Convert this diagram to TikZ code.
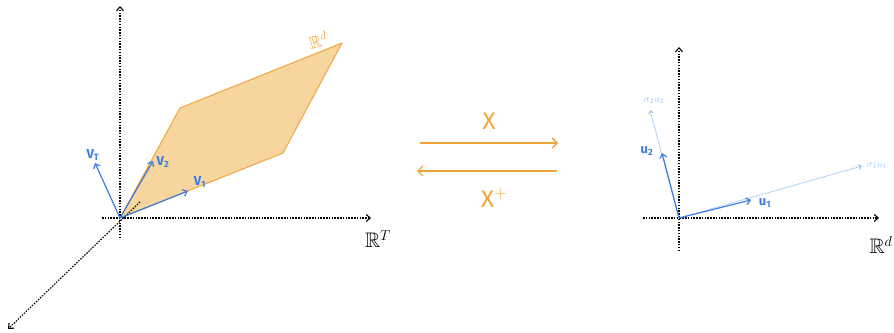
\documentclass[tikz,border=0pt]{standalone}
\usepackage{amssymb}
\usepackage{fontspec}
\setmainfont{Fira Sans}
\usetikzlibrary{arrows.meta}
\definecolor{vblue}{HTML}{3A7BE6}
\definecolor{lblue}{HTML}{9EC4EE}
\definecolor{orng}{HTML}{F0A53A}
\definecolor{ofill}{HTML}{F6D69E}
\begin{document}
\begin{tikzpicture}[x=1pt,y=-1pt,
  axis/.style={line width=1.1pt,dash pattern=on 1.5pt off 1.3pt,-{Straight Barb[length=4pt,width=7pt]}},
  vec/.style={vblue,line width=1.2pt,-{Straight Barb[length=4pt,width=7pt]}},
  faint/.style={lblue,line width=0.9pt,dash pattern=on 1pt off 0.6pt,-{Straight Barb[length=3pt,width=5pt]}},
  vlab/.style={vblue,font=\bfseries\fontsize{13}{14}\selectfont,inner sep=1pt},
  flab/.style={lblue,font=\fontsize{10}{11}\selectfont,inner sep=1pt},
  olab/.style={orng,font=\fontsize{24}{26}\selectfont,inner sep=1pt},
  blab/.style={black,font=\fontsize{21}{22}\selectfont,inner sep=1pt},
  oarrow/.style={orng,line width=1.3pt,-{Straight Barb[length=5pt,width=10pt]}}]
\useasboundingbox (0,0) rectangle (894,332);
% left coordinates
\coordinate (O) at (120,218);
\coordinate (P2) at (180,108);
\coordinate (P3) at (342,43);
\coordinate (P4) at (283,153);
\coordinate (yt) at (120,6);
\coordinate (yb) at (120,238);
\coordinate (xl) at (102,218);
\coordinate (xr) at (371,218);
\coordinate (zt) at (140,202);
\coordinate (zb) at (8,329);
\coordinate (v1) at (188,191);
\coordinate (v2) at (153,161);
\coordinate (vT) at (95,163);
% plane
\filldraw[fill=ofill,draw=orng,line width=1pt,line join=round] (O) -- (P2) -- (P3) -- (P4) -- cycle;
% axes
\draw[axis] (yb) -- (yt);
\draw[axis] (xl) -- (xr);
\draw[axis] (zt) -- (zb);
% vectors
\draw[vec] (O) -- (v1);
\draw[vec] (O) -- (v2);
\draw[vec] (O) -- (vT);
\node[vlab] (lv1) at (200,182) {V$_{\mathbf 1}$};
\node[vlab] (lv2) at (163,162) {V$_{\mathbf 2}$};
\node[vlab] (lvT) at (93,155) {V$_{\mathbf T}$};
\node[blab] (RT) at (378,239) {$\mathbb{R}^T$};
\node[orng,font=\fontsize{17}{18}\selectfont,rotate=15,inner sep=1pt] (Rd1) at (318,40) {$\mathbb{R}^d$};
% middle arrows
\coordinate (a1) at (420,143);
\coordinate (a2) at (558,143);
\coordinate (b1) at (557,171);
\coordinate (b2) at (417,171);
\draw[oarrow] (a1) -- (a2);
\draw[oarrow] (b1) -- (b2);
\node[olab] (X) at (489,121) {X};
\node[olab] (Xp) at (494,198) {X$^{\mathbf{+}}$};
% right
\coordinate (Q) at (679,218);
\coordinate (ryt) at (679,47);
\coordinate (ryb) at (679,251);
\coordinate (rxl) at (643,218);
\coordinate (rxr) at (879,218);
\coordinate (u1) at (751,200);
\coordinate (u2) at (662,153);
\coordinate (s1) at (862,166);
\coordinate (s2) at (650,110);
\draw[axis] (ryb) -- (ryt);
\draw[axis] (rxl) -- (rxr);
\draw[faint] (Q) -- (s1);
\draw[faint] (Q) -- (s2);
\draw[vec] (Q) -- (u1);
\draw[vec] (Q) -- (u2);
\node[vlab] (lu1) at (765,203) {u$_{\mathbf 1}$};
\node[vlab] (lu2) at (647,151) {u$_{\mathbf 2}$};
\node[flab] (ls1) at (877,166) {$\sigma_1 u_1$};
\node[flab] (ls2) at (654,101) {$\sigma_2 u_2$};
\node[blab] (Rd2) at (881,245) {$\mathbb{R}^d$};
\end{tikzpicture}
\end{document}
